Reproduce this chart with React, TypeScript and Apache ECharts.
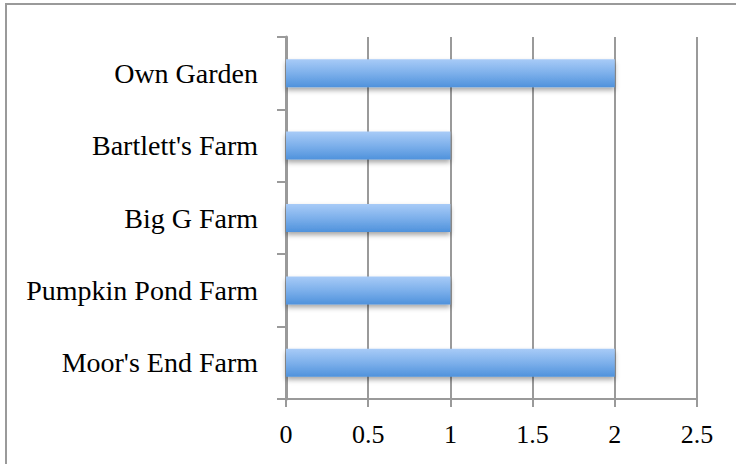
import React, { useEffect, useRef } from "react";
import * as echarts from "echarts";

// Sources listed bottom to top, as the category axis draws them
const farms = ["Moor's End Farm", "Pumpkin Pond Farm", "Big G Farm", "Bartlett's Farm", "Own Garden"];
const counts = [2, 1, 1, 1, 2];
const xTicks = [0, 0.5, 1, 1.5, 2, 2.5];

const FONT = "'Liberation Serif', 'Times New Roman', serif";
const GRAY = "#9a9a9a";

export default function App() {
  const ref = useRef<HTMLDivElement>(null);

  useEffect(() => {
    document.body.style.margin = "0";
    const chart = echarts.init(ref.current!, null, { renderer: "svg" });
    chart.setOption({
      animation: false,
      backgroundColor: "#ffffff",
      graphic: [
        {
          type: "rect",
          shape: { x: 6, y: 4, width: 760, height: 480 },
          style: { fill: "none", stroke: GRAY, lineWidth: 2 },
          silent: true,
        },
      ],
      grid: { left: 286, right: 39, top: 37, bottom: 65, containLabel: false },
      xAxis: {
        type: "value",
        min: 0,
        max: xTicks[xTicks.length - 1],
        interval: 0.5,
        axisLine: { show: true, lineStyle: { color: GRAY, width: 2 } },
        axisTick: { show: true, length: 8, lineStyle: { color: GRAY, width: 2 } },
        splitLine: { show: true, lineStyle: { color: GRAY, width: 2 } },
        axisLabel: {
          color: "#000",
          fontFamily: FONT,
          fontSize: 26,
          margin: 22,
          formatter: (v: number) => String(v),
        },
      },
      yAxis: {
        type: "category",
        data: farms,
        axisLine: { show: true, lineStyle: { color: GRAY, width: 3 } },
        axisTick: { show: true, length: 9, lineStyle: { color: GRAY, width: 2 } },
        axisLabel: { color: "#000", fontFamily: FONT, fontSize: 28, margin: 28 },
      },
      series: [
        {
          type: "bar",
          data: counts,
          barWidth: 28,
          itemStyle: {
            color: new echarts.graphic.LinearGradient(0, 0, 0, 1, [
              { offset: 0, color: "#a8cbf7" },
              { offset: 0.5, color: "#7db0eb" },
              { offset: 1, color: "#4f92dc" },
            ]),
            shadowColor: "rgba(0,0,0,0.35)",
            shadowBlur: 5,
            shadowOffsetY: 3,
          },
        },
      ],
    });
    return () => chart.dispose();
  }, []);

  return (
    <div
      ref={ref}
      style={{ position: "fixed", left: 0, top: 0, width: 736, height: 464 }}
    />
  );
}
